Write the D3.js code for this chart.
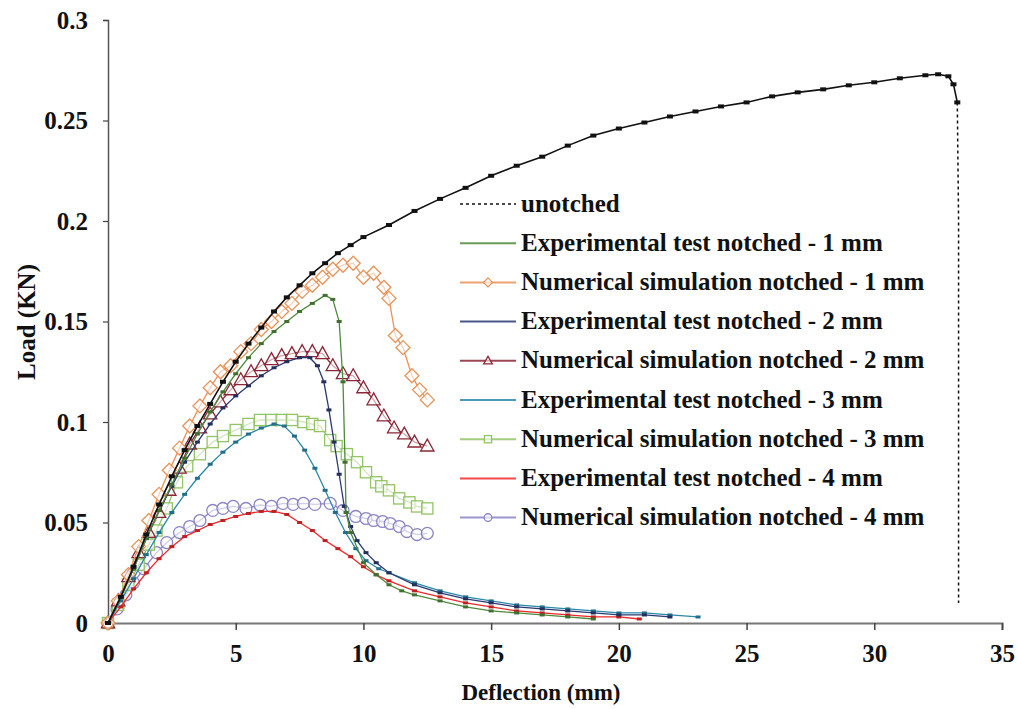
<!DOCTYPE html>
<html><head><meta charset="utf-8">
<script src="https://cdn.jsdelivr.net/npm/d3@7"></script>
<style>
html,body{margin:0;padding:0;background:#fff;}
text{font-family:"Liberation Serif","Times New Roman",serif;font-weight:bold;fill:#111;}
</style></head>
<body><svg id="c" width="1017" height="709"></svg>
<script>
// ---------- data ----------
const xTicks = [0,5,10,15,20,25,30,35];
const yTicks = [0,0.05,0.1,0.15,0.2,0.25,0.3];
const yTickLabels = ["0","0.05","0.1","0.15","0.2","0.25","0.3"];
const xTitle = "Deflection (mm)";
const yTitle = "Load (KN)";

const unotchedX = [0,0.5,1,1.5,2,2.5,3,3.5,4,4.5,5,5.5,6,6.5,7,7.5,8,8.5,9,9.5,10,11,12,13,14,15,16,17,18,19,20,21,22,23,24,25,26,27,28,29,30,31,32,32.5,32.9,33.1,33.25];
const unotchedY = [0,0.013,0.028,0.044,0.059,0.073,0.086,0.098,0.109,0.12,0.13,0.139,0.147,0.155,0.162,0.168,0.174,0.179,0.184,0.188,0.192,0.198,0.205,0.211,0.2165,0.2225,0.2275,0.232,0.2375,0.2425,0.246,0.249,0.252,0.2545,0.257,0.259,0.262,0.264,0.2655,0.2675,0.269,0.271,0.2725,0.273,0.272,0.268,0.259];
const unotchedDropX = [33.25,33.3,33.3];
const unotchedDropY = [0.259,0.2,0.01];

const exp1X = [0,0.5,1,1.5,2,2.5,3,3.5,4,4.5,5,5.5,6,6.5,7,7.5,8,8.5,8.8,9.05,9.2,9.28,9.32,9.5,10,10.5,11,11.5,12,13,14,15,16,17,18,19];
const exp1Y = [0,0.013,0.027,0.042,0.056,0.069,0.082,0.094,0.105,0.115,0.124,0.132,0.139,0.145,0.15,0.155,0.159,0.163,0.161,0.15,0.12,0.08,0.055,0.045,0.03,0.024,0.019,0.016,0.014,0.011,0.008,0.006,0.005,0.004,0.003,0.002];

const num1X = [0,0.4,0.8,1.2,1.6,2.0,2.4,2.8,3.2,3.6,4.0,4.4,4.8,5.2,5.6,6.0,6.4,6.8,7.2,7.6,8.0,8.4,8.8,9.2,9.6,10.0,10.4,10.8,11.0,11.25,11.55,11.9,12.2,12.5];
const num1Y = [0,0.011,0.024,0.038,0.051,0.064,0.076,0.087,0.098,0.108,0.117,0.125,0.128,0.135,0.139,0.146,0.15,0.155,0.159,0.165,0.168,0.172,0.176,0.178,0.179,0.172,0.174,0.167,0.1615,0.143,0.137,0.123,0.116,0.111];

const exp2X = [0,0.5,1,1.5,2,2.5,3,3.5,4,4.5,5,5.5,6,6.5,7,7.5,7.9,8.2,8.45,8.65,8.85,9.05,9.25,9.5,9.75,10.1,10.5,11,12,13,14,15,16,17,18,19,20,21,22];
const exp2Y = [0,0.013,0.027,0.042,0.056,0.068,0.08,0.09,0.099,0.107,0.113,0.118,0.123,0.127,0.13,0.132,0.132,0.128,0.12,0.106,0.09,0.074,0.058,0.048,0.041,0.035,0.03,0.025,0.019,0.015,0.012,0.01,0.008,0.007,0.006,0.005,0.004,0.004,0.003];

const num2X = [0,0.4,0.8,1.2,1.6,2.0,2.4,2.8,3.2,3.6,4.0,4.4,4.8,5.2,5.6,6.0,6.4,6.8,7.2,7.6,8.0,8.4,8.8,9.2,9.6,10.0,10.4,10.8,11.2,11.6,12.0,12.5];
const num2Y = [0,0.011,0.023,0.035,0.045,0.055,0.066,0.077,0.089,0.097,0.104,0.11,0.116,0.121,0.125,0.128,0.131,0.133,0.134,0.135,0.135,0.134,0.128,0.124,0.123,0.117,0.111,0.103,0.097,0.094,0.09,0.088];

const exp3X = [0,0.5,1,1.5,2,2.5,3,3.5,4,4.5,5,5.5,6,6.5,6.9,7.3,7.7,8.1,8.5,8.9,9.3,9.7,10.1,10.6,11,12,13,14,15,16,17,18,19,20,21,22,23.1];
const exp3Y = [0,0.011,0.022,0.034,0.045,0.055,0.064,0.072,0.079,0.085,0.09,0.094,0.097,0.099,0.098,0.093,0.086,0.077,0.066,0.055,0.045,0.037,0.031,0.027,0.025,0.02,0.016,0.013,0.011,0.009,0.008,0.007,0.006,0.005,0.005,0.004,0.003];

const num3X = [0,0.4,0.8,1.2,1.6,1.9,2.3,2.7,3.1,3.6,4.1,4.5,5.0,5.5,5.95,6.4,6.8,7.2,7.65,8.0,8.3,8.7,8.95,9.35,9.75,10.1,10.5,10.7,11.0,11.4,11.8,12.1,12.5];
const num3Y = [0,0.009,0.019,0.029,0.039,0.046,0.057,0.07,0.078,0.084,0.09,0.093,0.096,0.099,0.101,0.101,0.101,0.101,0.1,0.099,0.098,0.091,0.088,0.084,0.08,0.075,0.07,0.068,0.066,0.062,0.06,0.058,0.057];

const exp4X = [0,0.5,1,1.5,2,2.5,3,3.5,4,4.5,5,5.5,6,6.5,7,7.5,8,8.5,9,9.5,10,10.5,11,12,13,14,15,16,17,18,19,20,20.8];
const exp4Y = [0,0.008,0.017,0.025,0.032,0.038,0.043,0.046,0.049,0.051,0.053,0.0545,0.0555,0.0555,0.054,0.05,0.046,0.041,0.037,0.033,0.028,0.024,0.021,0.016,0.013,0.01,0.008,0.006,0.005,0.004,0.003,0.003,0.002];

const num4X = [0,0.35,0.7,1.0,1.4,1.9,2.3,2.8,3.2,3.6,4.1,4.5,4.9,5.4,5.95,6.4,6.85,7.25,7.65,8.1,8.7,9.2,9.7,10.1,10.4,10.75,11.05,11.4,11.7,12.1,12.5];
const num4Y = [0,0.007,0.014,0.02,0.027,0.035,0.04,0.045,0.048,0.051,0.056,0.057,0.058,0.057,0.0587,0.058,0.0595,0.059,0.0595,0.059,0.0595,0.056,0.053,0.052,0.051,0.0505,0.0495,0.048,0.0455,0.044,0.0446];

const seriesNames = ["unotched","Experimental test notched - 1 mm","Numerical simulation notched - 1 mm","Experimental test notched - 2 mm","Numerical simulation notched - 2 mm","Experimental test notched - 3 mm","Numerical simulation notched - 3 mm","Experimental test notched - 4 mm","Numerical simulation notched - 4 mm"];
const seriesColors = ["#111111","#4f8a3c","#e99258","#2b3a72","#8a2636","#2a88a8","#92c465","#ee2828","#8a84c4"];
const seriesMarkers = ["none","none","diamond","none","triangle","none","square","none","circle"];

// ---------- chart ----------
const svg = d3.select("#c");
const x = d3.scaleLinear().domain([0,35]).range([108,1002]);
const y = d3.scaleLinear().domain([0,0.3]).range([623,20]);

const zip = (a,b)=>a.map((v,i)=>[v,b[i]]);
const line = d3.line().x(d=>x(d[0])).y(d=>y(d[1]));

const data = [
  zip(unotchedX,unotchedY), zip(exp1X,exp1Y), zip(num1X,num1Y), zip(exp2X,exp2Y),
  zip(num2X,num2Y), zip(exp3X,exp3Y), zip(num3X,num3Y), zip(exp4X,exp4Y), zip(num4X,num4Y)
];

// axes
const xAxis = svg.append("g").attr("transform","translate(0,623)")
  .call(d3.axisBottom(x).tickValues(xTicks).tickSize(7).tickPadding(14).tickFormat(d3.format("d")));
xAxis.select(".domain").attr("stroke","#777").attr("stroke-width",2);
xAxis.selectAll(".tick line").attr("stroke","#444").attr("stroke-width",1.5);
xAxis.selectAll(".tick text").attr("font-size",25).attr("fill","#111")
  .style("font-family","'Liberation Serif',serif").style("font-weight","bold");

const yAxis = svg.append("g").attr("transform","translate(108,0)")
  .call(d3.axisLeft(y).tickValues(yTicks).tickSize(5).tickPadding(15).tickFormat((d,i)=>yTickLabels[i]));
yAxis.select(".domain").attr("stroke","#555").attr("stroke-width",1.5);
yAxis.selectAll(".tick line").attr("stroke","#444").attr("stroke-width",1.2);
yAxis.selectAll(".tick text").attr("font-size",25).attr("fill","#111")
  .style("font-family","'Liberation Serif',serif").style("font-weight","bold");

svg.append("text").attr("x",541).attr("y",700).attr("text-anchor","middle").attr("font-size",23).text(xTitle);
svg.append("text").attr("transform","translate(35,322) rotate(-90)").attr("text-anchor","middle").attr("font-size",25).text(yTitle);

// marker drawing
function drawMarker(g, type, cx, cy, color, s) {
  if (type==="diamond") {
    g.append("path").attr("d",`M${cx},${cy-s}L${cx+s},${cy}L${cx},${cy+s}L${cx-s},${cy}Z`)
      .attr("fill","white").attr("fill-opacity",0.6).attr("stroke",color).attr("stroke-width",1.3);
  } else if (type==="triangle") {
    g.append("path").attr("d",`M${cx},${cy-s}L${cx+s*0.95},${cy+s*0.7}L${cx-s*0.95},${cy+s*0.7}Z`)
      .attr("fill","white").attr("fill-opacity",0.6).attr("stroke",color).attr("stroke-width",1.3);
  } else if (type==="square") {
    g.append("rect").attr("x",cx-s*0.8).attr("y",cy-s*0.8).attr("width",s*1.6).attr("height",s*1.6)
      .attr("fill","white").attr("fill-opacity",0.6).attr("stroke",color).attr("stroke-width",1.3);
  } else if (type==="circle") {
    g.append("circle").attr("cx",cx).attr("cy",cy).attr("r",s*0.85)
      .attr("fill","white").attr("fill-opacity",0.6).attr("stroke",color).attr("stroke-width",1.3);
  }
}

const plot = svg.append("g");
const order = [8,6,4,2,7,5,3,1,0];
order.forEach(i=>{
  const g = plot.append("g");
  const pts = data[i];
  g.append("path").attr("d",line(pts)).attr("fill","none").attr("stroke",seriesColors[i])
    .attr("stroke-width", i===0?1.6:1.3);
  if (seriesMarkers[i]!=="none") {
    pts.forEach(p=>drawMarker(g, seriesMarkers[i], x(p[0]), y(p[1]), seriesColors[i], 7));
  } else {
    const w = i===0?6:5, h = i===0?4:3;
    pts.forEach(p=>g.append("rect").attr("x",x(p[0])-w/2).attr("y",y(p[1])-h/2).attr("width",w).attr("height",h)
      .attr("fill", i===0?"#111":d3.color(seriesColors[i]).darker(0.6)));
  }
});
// unotched final drop (dashed)
plot.append("path").attr("d",line(zip(unotchedDropX,unotchedDropY))).attr("fill","none")
  .attr("stroke","#111").attr("stroke-width",1.5).attr("stroke-dasharray","3,3");

// legend
const lg = svg.append("g");
seriesNames.forEach((name,i)=>{
  const yy = 204 + i*39.2;
  const l = lg.append("line").attr("x1",460).attr("x2",516).attr("y1",yy).attr("y2",yy)
    .attr("stroke",seriesColors[i]).attr("stroke-width", i===0?1.5:2);
  if (i===0) l.attr("stroke-dasharray","3,3");
  else l.attr("stroke-opacity",0.85);
  if (seriesMarkers[i]!=="none") drawMarker(lg, seriesMarkers[i], 488, yy, seriesColors[i], 4.5);
  lg.append("text").attr("x",521).attr("y",yy+7.5).attr("font-size",25).text(name);
});
</script></body></html>
